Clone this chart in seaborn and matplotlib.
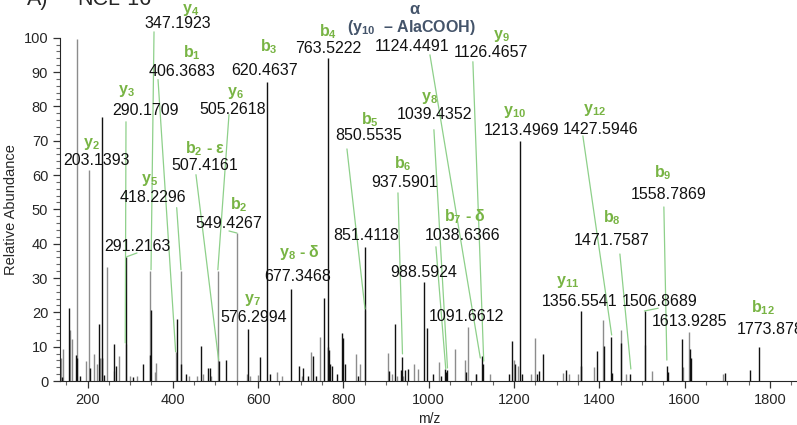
import matplotlib
matplotlib.use("Agg")
import matplotlib.pyplot as plt
from matplotlib.ticker import MultipleLocator
import seaborn as sns
import pandas as pd

# ---- spectrum peaks (m/z, relative abundance) ----
gray_mz = [137, 143, 158, 164, 175.4, 196, 203.1, 216, 222, 228.5, 245, 262, 274,
           290.2, 300, 316, 347.2, 359, 361, 406.4, 418.2, 437, 456, 470, 490,
           505.3, 549.4, 574, 580, 599, 645, 655, 702, 723, 745, 829, 840, 850.6,
           903.7, 913, 925, 940, 966, 975, 1023, 1061.5, 1085, 1091.7, 1112, 1143,
           1199, 1209, 1241, 1250, 1315, 1329, 1350, 1388, 1409, 1451, 1462, 1507,
           1524, 1596, 1610, 1690]
gray_int = [6.7, 9.3, 15, 12.2, 99.6, 5.8, 61.5, 7.9, 4.9, 6.6, 33.3, 3, 7.3,
            10.7, 1.5, 1.5, 32, 2.7, 5.2, 8.5, 32, 1.5, 1.5, 2, 1.5,
            32, 43, 2, 1.5, 1.8, 2.7, 1.5, 1.5, 8.5, 12.7, 7.9, 5, 20.7,
            8.3, 2, 1.5, 1.5, 5, 3.5, 5.5, 9.2, 6, 15.8, 2, 2,
            6, 4.5, 2, 12.4, 2.3, 2, 2, 4, 17.8, 14.9, 2, 10.6,
            3, 4, 14.4, 2]

black_mz = [141, 157, 173, 176.5, 183, 205, 227.7, 233, 234, 239, 263, 267, 291.2,
            306, 329, 346, 348, 409, 420, 432, 465, 483, 487, 507.4, 524, 577,
            605, 620.5, 628, 677.4, 697, 705, 718, 729, 735, 753.6, 763.5, 765,
            766.5, 768, 773, 785, 797, 800, 803, 834, 851.4, 906, 920, 935, 937.6,
            944, 951, 988.6, 995, 1009, 1029, 1038.6, 1040, 1042, 1087, 1110,
            1124.4, 1126.5, 1188, 1195.8, 1203, 1213.5, 1218, 1254, 1259, 1267,
            1323, 1356.5, 1358, 1393.6, 1410, 1427.6, 1429, 1452, 1471.8, 1506.9,
            1558.8, 1560, 1595, 1612, 1614, 1694, 1754.5, 1773.9]
black_int = [1.2, 21.2, 7.6, 6.7, 1.5, 3.7, 16.6, 76.8, 6.6, 1.7, 10.8, 4.4, 36.2,
             1.3, 4.9, 7.6, 20.7, 18, 4.9, 2, 10.2, 3.7, 3.7, 5.8, 6.1, 15.1,
             7, 87, 2, 26.7, 4.4, 3.7, 1.5, 7.4, 1.5, 24.1, 94, 10,
             9, 5, 4.4, 2, 14, 12.4, 5, 1.5, 39, 3, 16.6, 3.3, 6.9,
             3.3, 3.6, 28.8, 15.5, 2, 1.5, 3.5, 2.5, 3.3, 2.7, 2,
             7.3, 5, 2, 11.8, 5, 70, 2, 2, 3, 7.8,
             3.3, 20.4, 4.4, 8.8, 10.1, 12.7, 2.3, 11, 2, 20.4,
             4.4, 2.5, 12.2, 9.2, 6.6, 2.3, 3.3, 9.8]

# ---- annotation texts ----
mass_labels = ["347.1923", "406.3683", "290.1709", "505.2618", "203.1393", "507.4161",
               "418.2296", "620.4637", "763.5222", "1124.4491", "1126.4657",
               "1039.4352", "850.5535", "1213.4969", "937.5901", "1427.5946",
               "1558.7869", "549.4267", "291.2163", "576.2994", "1038.6366",
               "851.4118", "677.3468", "988.5924", "1091.6612", "1471.7587",
               "1356.5541", "1506.8689", "1613.9285"]
ion_labels = [r"$\mathbf{y_{4}}$", r"$\mathbf{b_{1}}$", r"$\mathbf{y_{3}}$",
              r"$\mathbf{y_{6}}$", r"$\mathbf{y_{2}}$", r"$\mathbf{b_{2}}$ - ε",
              r"$\mathbf{y_{5}}$", r"$\mathbf{b_{3}}$", r"$\mathbf{b_{4}}$",
              r"$\mathbf{y_{9}}$", r"$\mathbf{y_{8}}$", r"$\mathbf{b_{5}}$",
              r"$\mathbf{y_{10}}$", r"$\mathbf{b_{6}}$", r"$\mathbf{y_{12}}$",
              r"$\mathbf{b_{9}}$", r"$\mathbf{b_{2}}$", r"$\mathbf{y_{7}}$",
              r"$\mathbf{b_{7}}$ - δ", r"$\mathbf{y_{8}}$ - δ", r"$\mathbf{b_{8}}$",
              r"$\mathbf{y_{11}}$", r"$\mathbf{b_{12}}$"]

# placement of the texts (data coordinates)
mass_pos = [(412, 104.1), (421.5, 90.1), (334.8, 78.7), (541, 79.0), (219.9, 64.1),
            (475.4, 62.7), (353.5, 53.4), (616, 90.4), (763.7, 96.8), (960.6, 97.4),
            (1145.8, 95.6), (1014.6, 77.6), (859.8, 71.4), (1218.4, 72.9),
            (944.3, 57.7), (1403.7, 73.2), (1563.1, 54.2), (531.7, 45.8),
            (316, 39.1), (590.3, 18.4), (1080.3, 42.3), (852.8, 42.3),
            (693.4, 30.3), (988.8, 31.5), (1089.5, 18.7), (1429.6, 40.8),
            (1354.5, 23.3), (1542, 23.3), (1612.3, 17.2)]
ion_pos = [(440.8, 108.2), (445, 95.6), (290.2, 84.5), (545.8, 84.0), (208.2, 69.1),
           (475.4, 67.6), (344.2, 58.6), (625.5, 97.4), (763.7, 101.7),
           (1171.6, 100.6), (1002.9, 82.5), (862.2, 76.1), (1202.1, 78.4),
           (939.6, 63.3), (1389.6, 79.0), (1549, 60.6), (555.1, 51.3),
           (585.6, 23.6), (1084.9, 47.8), (698.1, 37.3), (1429.6, 47.5),
           (1326.3, 28.9), (1783.5, 21.3)]
leaders = [((290.2, 75.5), (288.5, 11.1)), ((316, 37.3), (292, 36.2)),
           ((355.9, 101.7), (348.9, 32.4)), ((365.3, 87.8), (406.6, 8.5)),
           ((409.1, 50.5), (419.2, 32.4)), ((531.7, 77.6), (505.6, 32.4)),
           ((454.3, 60.1), (507.4, 6.1)), ((531.7, 43.7), (550.4, 43.1)),
           ((808.3, 67.6), (850.6, 21.0)), ((927.9, 54.8), (938.5, 7.9)),
           ((1012.2, 73.2), (1044, 3.8)), ((1016.9, 39.1), (1040, 3.5)),
           ((1002.9, 95.0), (1121, 6.7)), ((1103.6, 93.0), (1129, 5.8)),
           ((1361.5, 71.4), (1429, 13.4)), ((1448.3, 37.0), (1474, 3.5)),
           ((1505.8, 20.4), (1538, 21.2)), ((1551.4, 50.7), (1558.4, 6.1))]

GREEN = "#78b444"
LEADER = "#8ed08a"
SLATE = "#44546a"

sns.set_style("ticks")
plt.rcParams["font.family"] = ["Liberation Sans", "DejaVu Sans"]
plt.rcParams["mathtext.fontset"] = "custom"
plt.rcParams["mathtext.rm"] = "Liberation Sans"
plt.rcParams["mathtext.bf"] = "Liberation Sans:bold"
plt.rcParams["mathtext.it"] = "Liberation Sans:italic"

peaks = pd.concat([
    pd.DataFrame({"mz": gray_mz, "intensity": gray_int, "trace": "gray"}),
    pd.DataFrame({"mz": black_mz, "intensity": black_int, "trace": "black"}),
])
colors = {"gray": "#8c8c8c", "black": "#111111"}

fig = plt.figure(figsize=(7.97, 4.25), dpi=100)
ax = fig.add_axes([0.0753, 0.1035, 0.926, 0.8078])

for trace in ["gray", "black"]:
    sub = peaks[peaks["trace"] == trace]
    ax.vlines(sub["mz"], 0, sub["intensity"], color=colors[trace], lw=1.0)

for (x0, y0), (x1, y1) in leaders:
    ax.plot([x0, x1], [y0, y1], color=LEADER, lw=0.9, clip_on=False)

for txt, (x, y) in zip(mass_labels, mass_pos):
    ax.text(x, y, txt, fontsize=11.5, ha="center", va="center", color="#111111",
            clip_on=False)
ax.text(1722.5, 14.9, "1773.8781", fontsize=11.5, ha="left", va="center",
        color="#111111", clip_on=False)

for txt, (x, y) in zip(ion_labels, ion_pos):
    ax.text(x, y, txt, fontsize=11.5, fontweight="bold", ha="center", va="center",
            color=GREEN, clip_on=False)

ax.text(967.6, 108.2, "α", fontsize=12, fontweight="bold", ha="center",
        va="center", color=SLATE, clip_on=False)
ax.text(960.6, 102.9, r"($\mathbf{y_{10}}$  – AlaCOOH)", fontsize=11.5,
        fontweight="bold", ha="center", va="center", color=SLATE, clip_on=False)

ax.set_xlim(135.5, 1866)
ax.set_ylim(0, 100)
ax.xaxis.set_major_locator(MultipleLocator(200))
ax.xaxis.set_minor_locator(MultipleLocator(50))
ax.yaxis.set_major_locator(MultipleLocator(10))
ax.yaxis.set_minor_locator(MultipleLocator(2))
ax.tick_params(axis="both", which="major", length=5, width=0.9, labelsize=10.5,
               color="#333333")
ax.tick_params(axis="both", which="minor", length=3, width=0.8, color="#666666")
ax.set_xlabel("m/z", fontsize=10)
ax.set_ylabel("Relative Abundance", fontsize=10.5)
sns.despine(ax=ax)

fig.text(27 / 797, 1 - 5 / 425, "A)", fontsize=15.5, va="baseline")
fig.text(77 / 797, 1 - 5 / 425, "NCL-16", fontsize=15.5, va="baseline")

fig.savefig("out.png", dpi=100)
